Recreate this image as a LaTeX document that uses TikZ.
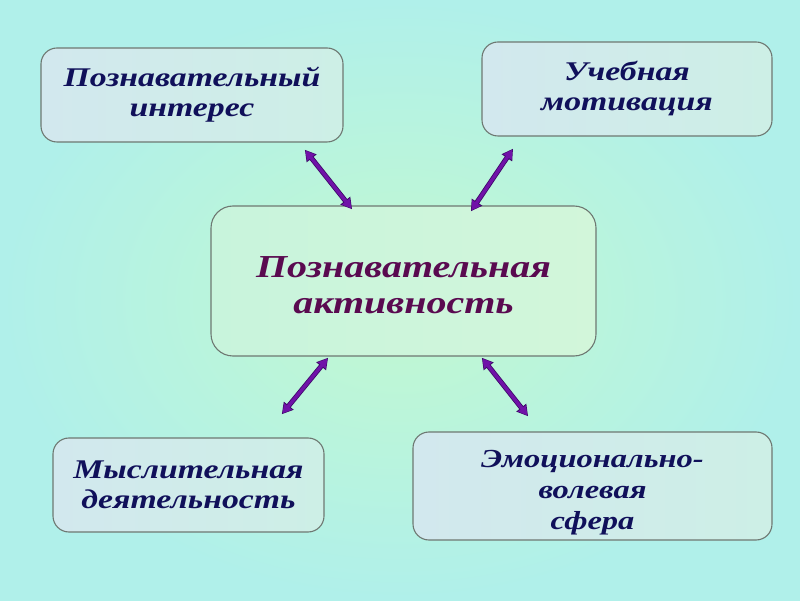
\documentclass[tikz,border=0pt]{standalone}
\usepackage{fontspec}
\setmainfont{Liberation Serif}
\newfontfamily\widefont{Liberation Serif}[FakeStretch=1.25]
\usetikzlibrary{arrows.meta,calc}
\definecolor{bgin}{HTML}{C2F8D0}
\definecolor{bgout}{HTML}{B0F0EA}
\definecolor{boxl}{HTML}{D2E8EE}
\definecolor{boxr}{HTML}{CDEFE6}
\definecolor{cboxl}{HTML}{C8F4DC}
\definecolor{cboxr}{HTML}{D2F6DA}
\definecolor{edge}{HTML}{6E7872}
\definecolor{navy}{HTML}{10105A}
\definecolor{plum}{HTML}{5A0A50}
\definecolor{arr}{HTML}{7012A8}
\definecolor{arrdark}{HTML}{3C0868}
\tikzset{
  sidebox/.style={draw=edge, line width=1.1pt, rounded corners=16pt,
    left color=boxl, right color=boxr, align=center, inner sep=0pt,
    text=navy, font=\widefont\fontsize{27}{30}\selectfont\bfseries\itshape},
  centerbox/.style={draw=edge, line width=1.1pt, rounded corners=22pt,
    left color=cboxl, right color=cboxr, align=center, inner sep=0pt,
    text=plum, font=\widefont\fontsize{32}{36}\selectfont\bfseries\itshape},
  linkback/.style={draw=arrdark, line width=5pt,
    {Triangle[length=11pt,width=12pt]}-{Triangle[length=11pt,width=12pt]}, shorten <=-1pt, shorten >=-1pt},
  link/.style={draw=arr, line width=3.4pt,
    {Triangle[length=9pt,width=9.5pt]}-{Triangle[length=9pt,width=9.5pt]}}
}
\begin{document}
\begin{tikzpicture}[x=1pt,y=1pt]
\shade[inner color=bgin, outer color=bgout] (0,0) rectangle (800,600);
\useasboundingbox (0,0) rectangle (800,600);
% boxes (y measured from top: 600 - y)
\node[sidebox, minimum width=302pt, minimum height=94pt] (interest) at (192,505) {Познавательный\\интерес};
\node[sidebox, minimum width=290pt, minimum height=94pt] (motiv) at (627,511) {Учебная\\мотивация};
\node[centerbox, minimum width=385pt, minimum height=150pt] (act) at (403.5,319) {\rule{0pt}{30pt}Познавательная\\активность};
\node[sidebox, minimum width=271pt, minimum height=94pt] (think) at (188.5,115) {Мыслительная\\деятельность};
\node[sidebox, minimum width=359pt, minimum height=108pt, font=\widefont\fontsize{26}{31}\selectfont\bfseries\itshape] (emo) at (592.5,114) {\rule{0pt}{30pt}Эмоционально-\\волевая\\сфера};
% arrow ends
\coordinate (a1s) at ($(interest.south west)+(265,-8)$);
\coordinate (a1e) at ($(act.north west)+(141,-3)$);
\coordinate (a2s) at ($(motiv.south west)+(31,-13)$);
\coordinate (a2e) at ($(act.north west)+(261,-5)$);
\coordinate (a3s) at ($(act.south west)+(117,-2)$);
\coordinate (a3e) at ($(think.north west)+(230,24)$);
\coordinate (a4s) at ($(act.south west)+(272,-2)$);
\coordinate (a4e) at ($(emo.north west)+(115,16)$);
\foreach \s/\e in {a1s/a1e,a2s/a2e,a3s/a3e,a4s/a4e}{
  \draw[linkback] (\s) -- (\e);
  \draw[link] (\s) -- (\e);
}
\end{tikzpicture}
\end{document}
